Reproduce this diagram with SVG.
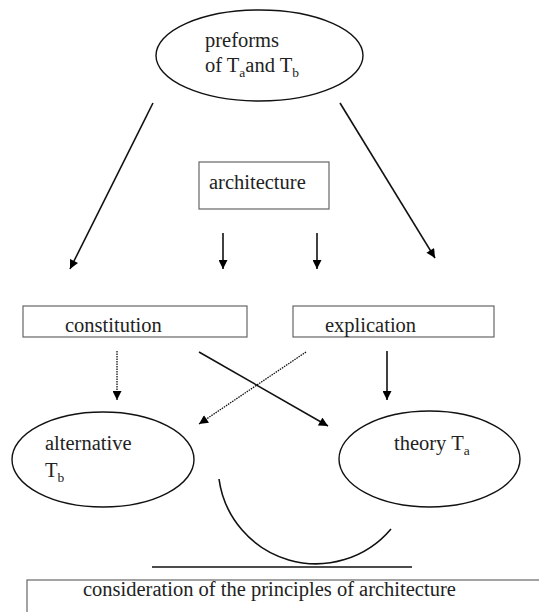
<svg xmlns="http://www.w3.org/2000/svg" width="539" height="612" viewBox="0 0 539 612">
<defs>
<marker id="ah" viewBox="0 0 10 10" refX="10" refY="5" markerWidth="10" markerHeight="9" markerUnits="userSpaceOnUse" orient="auto">
<path d="M0,0 L10,5 L0,10 z" fill="#000"/>
</marker>
</defs>
<style>
text{font-family:"Liberation Serif","Times New Roman",serif;font-size:20.5px;fill:#222}
.sub{font-size:13.5px}
.box{fill:#fff;stroke:#666;stroke-width:1.2}
.ell{fill:#fff;stroke:#111;stroke-width:1.4}
.ln{stroke:#111;stroke-width:1.6;fill:none}
.dot{stroke:#111;stroke-width:1.3;stroke-dasharray:1.5,1;fill:none}
</style>
<rect width="539" height="612" fill="#fff"/>
<g id="preforms">
<ellipse class="ell" cx="259.5" cy="55.5" rx="103.5" ry="45.5"/>
<text x="205" y="47" font-family="Liberation Serif, serif">preforms</text>
<text x="205" y="72" font-family="Liberation Serif, serif">of T<tspan class="sub" dy="5">a</tspan><tspan dy="-5">and T</tspan><tspan class="sub" dy="5">b</tspan></text>
</g>
<g id="architecture">
<rect class="box" x="199" y="162" width="130" height="47"/>
<text x="209" y="189" font-family="Liberation Serif, serif">architecture</text>
</g>
<g id="constitution">
<rect class="box" x="23" y="306" width="224" height="31"/>
<text x="65" y="332" font-family="Liberation Serif, serif">constitution</text>
</g>
<g id="explication">
<rect class="box" x="293" y="306" width="201" height="31"/>
<text x="325" y="332" font-family="Liberation Serif, serif">explication</text>
</g>
<g id="alternative">
<ellipse class="ell" cx="103" cy="459.5" rx="91" ry="47.5"/>
<text x="45" y="450" font-family="Liberation Serif, serif">alternative</text>
<text x="45" y="477" font-family="Liberation Serif, serif">T<tspan class="sub" dy="5">b</tspan></text>
</g>
<g id="theory">
<ellipse class="ell" cx="429.5" cy="459" rx="90.5" ry="48"/>
<text x="394" y="450" font-family="Liberation Serif, serif">theory T<tspan class="sub" dy="5">a</tspan></text>
</g>
<g id="consideration">
<rect class="box" x="27" y="580" width="520" height="40"/>
<text x="83" y="596" font-family="Liberation Serif, serif">consideration of the principles of architecture</text>
</g>
<g id="connectors">
<line class="ln" x1="153" y1="103" x2="70" y2="269" marker-end="url(#ah)"/>
<line class="ln" x1="340" y1="103" x2="435" y2="258" marker-end="url(#ah)"/>
<line class="ln" x1="223" y1="233" x2="223" y2="269" marker-end="url(#ah)"/>
<line class="ln" x1="317" y1="233" x2="317" y2="269" marker-end="url(#ah)"/>
<line class="dot" x1="117" y1="351" x2="117" y2="400" marker-end="url(#ah)"/>
<line class="ln" x1="387" y1="351" x2="387" y2="400" marker-end="url(#ah)"/>
<line class="ln" x1="199" y1="352" x2="328" y2="426" marker-end="url(#ah)"/>
<line class="dot" x1="306" y1="352" x2="199" y2="424" marker-end="url(#ah)"/>
<path class="ln" d="M219,479 A98,98 0 0 0 391,529"/>
<line class="ln" x1="152" y1="567" x2="412" y2="567"/>
</g>
</svg>
